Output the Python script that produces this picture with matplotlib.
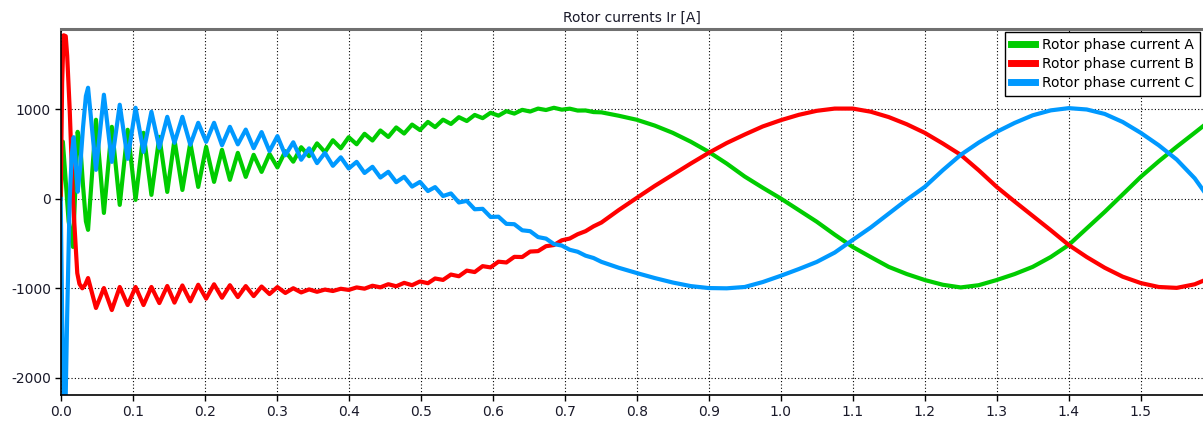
import matplotlib
matplotlib.use("Agg")
import matplotlib.pyplot as plt
import numpy as np

# ---------------- data ----------------
title = "Rotor currents Ir [A]"
series_names = ["Rotor phase current A", "Rotor phase current B", "Rotor phase current C"]
x_ticks = [0.0, 0.1, 0.2, 0.3, 0.4, 0.5, 0.6, 0.7, 0.8, 0.9, 1.0, 1.1, 1.2, 1.3, 1.4, 1.5]
y_ticks = [-2000, -1000, 0, 1000]

# start-up transient (first ~35 ms)
t_green0 = [0.0, 0.003, 0.007, 0.011, 0.017, 0.020, 0.0235, 0.027, 0.031, 0.035]
green0 = [0, 640, 200, -250, -537, 50, 750, 620, 150, -250]
t_red0 = [0.0, 0.002, 0.004, 0.007, 0.009, 0.0125, 0.017, 0.0195, 0.023, 0.026, 0.030, 0.034]
red0 = [0, 1300, 1830, 1820, 1600, 1000, 0, -350, -830, -950, -1000, -960]
t_blue0 = [0.0, 0.002, 0.0045, 0.0065, 0.009, 0.0125, 0.0155, 0.018, 0.0205, 0.0236, 0.027, 0.031, 0.035]
blue0 = [0, -1300, -2400, -2400, -1300, 0, 500, 690, 450, 80, 350, 800, 1150]

# ripple extremes (peaks / troughs)
t_ripple = [0.038, 0.049, 0.060, 0.071, 0.082, 0.093, 0.104, 0.115, 0.126, 0.137,
            0.148, 0.158, 0.169, 0.180, 0.191, 0.202, 0.213, 0.224, 0.235, 0.246,
            0.257, 0.268, 0.279, 0.290, 0.301, 0.312, 0.323, 0.334, 0.345, 0.356,
            0.367, 0.378, 0.389, 0.400, 0.411, 0.422, 0.433, 0.444, 0.455, 0.466,
            0.477, 0.488, 0.499, 0.510, 0.520, 0.531, 0.542, 0.553, 0.564, 0.575,
            0.586, 0.597, 0.608, 0.619, 0.630, 0.641, 0.652, 0.663, 0.674, 0.685,
            0.696, 0.707, 0.718, 0.729, 0.740, 0.751]
green_ripple = [-346, 885, -157, 806, -67, 773, -11, 739, 45, 694,
                78, 661, 100, 627, 134, 582, 190, 549, 213, 515,
                246, 493, 302, 503, 352, 533, 416, 578, 478, 621,
                523, 656, 566, 690, 611, 728, 653, 765, 693, 799,
                731, 831, 770, 861, 803, 886, 838, 914, 871, 939,
                903, 963, 931, 981, 954, 996, 977, 1010, 994, 1019,
                998, 1009, 988, 989, 971, 968]
red_ripple = [-885, -1220, -997, -1243, -985, -1187, -985, -1187, -985, -1165,
              -974, -1160, -968, -1145, -960, -1115, -955, -1105, -965, -1098,
              -975, -1087, -980, -1064, -986, -1052, -999, -1046, -1012, -1039,
              -1014, -1030, -1005, -1018, -990, -1004, -971, -989, -954, -977,
              -939, -965, -923, -943, -890, -906, -846, -865, -802, -818,
              -752, -766, -702, -711, -648, -650, -589, -584, -529, -516,
              -463, -443, -395, -361, -307, -264]
blue_ripple = [1243, 325, 1165, 414, 1053, 448, 1019, 526, 974, 571,
               918, 627, 918, 605, 851, 638, 851, 600, 806, 610,
               775, 567, 747, 534, 702, 488, 633, 438, 565, 400,
               515, 370, 465, 340, 414, 290, 359, 239, 303, 187,
               247, 138, 190, 88, 132, 32, 61, -40, -22, -116,
               -111, -202, -199, -279, -283, -351, -361, -427, -444, -505,
               -522, -569, -591, -635, -661, -704]

# steady slip-frequency part
t_smooth = [0.775, 0.8, 0.825, 0.85, 0.875, 0.9, 0.925, 0.95, 0.975, 1.0,
            1.025, 1.05, 1.075, 1.1, 1.125, 1.15, 1.175, 1.2, 1.225, 1.25,
            1.275, 1.3, 1.325, 1.35, 1.375, 1.4, 1.425, 1.45, 1.475, 1.5,
            1.525, 1.55, 1.575, 1.59]
green_smooth = [930, 885, 820, 739, 640, 526, 395, 250, 125, 5,
                -125, -255, -400, -537, -650, -760, -840, -907, -960, -990,
                -965, -907, -840, -760, -650, -515, -330, -145, 50, 246,
                420, 583, 740, 835]
red_smooth = [-125, 11, 145, 270, 395, 515, 625, 720, 810, 880,
              940, 985, 1010, 1010, 975, 915, 835, 739, 620, 493,
              320, 134, -30, -190, -350, -515, -650, -770, -870, -941,
              -985, -995, -955, -905]
blue_smooth = [-770, -829, -885, -935, -975, -997, -1000, -985, -930, -860,
               -785, -705, -600, -459, -320, -165, -10, 134, 320, 493,
               630, 750, 850, 935, 990, 1015, 1000, 950, 860, 739,
               600, 440, 230, 60]

# ---------------- figure ----------------
W, H = 1203, 425
fig = plt.figure(figsize=(W / 100, H / 100), dpi=100)
ax_left, ax_right, ax_top, ax_bottom = 60.7, 1203, 29, 395
ax = fig.add_axes([ax_left / W, 1 - ax_bottom / H, (ax_right - ax_left) / W, (ax_bottom - ax_top) / H])

colors = ["#00cc00", "#ff0000", "#0099ff"]
t_all = {
    "A": np.concatenate([t_green0, t_ripple, t_smooth]),
    "B": np.concatenate([t_red0, t_ripple, t_smooth]),
    "C": np.concatenate([t_blue0, t_ripple, t_smooth]),
}
v_all = {
    "A": np.concatenate([green0, green_ripple, green_smooth]),
    "B": np.concatenate([red0, red_ripple, red_smooth]),
    "C": np.concatenate([blue0, blue_ripple, blue_smooth]),
}
for key, name, c in zip(["A", "B", "C"], series_names, colors):
    ax.plot(t_all[key], v_all[key], color=c, lw=3.0, label=name, solid_joinstyle="round")

ax.set_xlim(0, 1.5865)
ax.set_ylim(-2193, 1900)
ax.set_xticks(x_ticks)
ax.set_xticklabels([f"{v:.1f}" for v in x_ticks])
ax.set_yticks(y_ticks)
ax.set_yticklabels([str(v) for v in y_ticks])

ax.grid(True, color="black", linestyle=(0, (1, 2)), linewidth=0.8)
ax.set_axisbelow(True)

for s in ["left", "bottom"]:
    ax.spines[s].set_color("black")
    ax.spines[s].set_linewidth(1.2)
ax.spines["top"].set_color("#707070")
ax.spines["top"].set_linewidth(2.2)
ax.spines["right"].set_visible(False)

ax.tick_params(axis="both", direction="out", length=4, width=1, colors="black",
               labelsize=10, labelcolor="#1a1a2a", pad=3)

ax.set_title(title, fontsize=10, color="#1a1a2a", pad=5)

leg = ax.legend(loc="upper left", bbox_to_anchor=(1005 / W, 1 - 32 / H),
                bbox_transform=fig.transFigure, borderaxespad=0,
                frameon=True, fancybox=False, framealpha=1, edgecolor="black",
                fontsize=10, handlelength=1.7, handletextpad=0.5,
                borderpad=0.45, labelspacing=0.35)
leg.get_frame().set_linewidth(1.0)
for h in leg.get_lines():
    h.set_linewidth(5)

fig.savefig("out.png", dpi=100)
